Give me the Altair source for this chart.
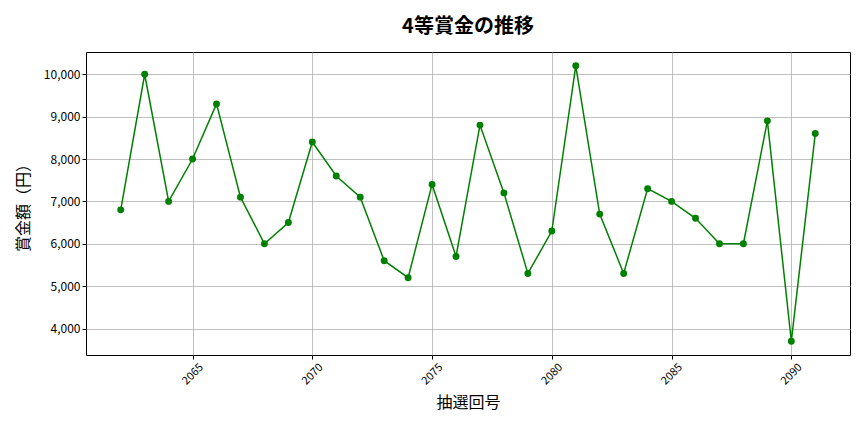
import altair as alt
import pandas as pd

draws = list(range(2062, 2092))
prizes = [
    6800, 10000, 7000, 8000, 9300, 7100, 6000, 6500, 8400, 7600,
    7100, 5600, 5200, 7400, 5700, 8800, 7200, 5300, 6300, 10200,
    6700, 5300, 7300, 7000, 6600, 6000, 6000, 8900, 3700, 8600,
]
x_ticks = [2065, 2070, 2075, 2080, 2085, 2090]
y_ticks = [4000, 5000, 6000, 7000, 8000, 9000, 10000]

df = pd.DataFrame({"draw": draws, "prize": prizes})

font = "Noto Sans CJK JP"

chart = (
    alt.Chart(df)
    .mark_line(color="#008000", strokeWidth=1.5, point=alt.OverlayMarkDef(color="#008000", size=48, opacity=1))
    .encode(
        x=alt.X(
            "draw:Q",
            title="抽選回号",
            scale=alt.Scale(domain=[2060.55, 2092.45], nice=False, zero=False),
            axis=alt.Axis(values=x_ticks, format="d", labelAngle=-45, labelAlign="center",
                          labelBaseline="middle", labelPadding=15, labelFontSize=11, titlePadding=8),
        ),
        y=alt.Y(
            "prize:Q",
            title="賞金額（円）",
            scale=alt.Scale(domain=[3375, 10525], nice=False, zero=False),
            axis=alt.Axis(values=y_ticks, format=",.0f", labelFontSize=12, titlePadding=12),
        ),
    )
    .properties(
        width=764,
        height=303,
        autosize=alt.AutoSizeParams(type="none"),
        padding={"left": 78, "top": 44, "right": 4, "bottom": 60},
        title=alt.TitleParams("4等賞金の推移", fontSize=20, fontWeight="bold", font=font, offset=15),
    )
    .configure_view(stroke="#000000", strokeWidth=1)
    .configure_axis(
        labelFont=font,
        titleFont=font,
        titleFontSize=16,
        titleFontWeight="normal",
        labelColor="#000000",
        titleColor="#000000",
        grid=True,
        gridColor="#b0b0b0",
        gridWidth=0.8,
        domain=False,
        tickColor="#000000",
        tickSize=4,
    )
)

chart.save("out.html", embed_options={"renderer": "svg", "actions": False})
